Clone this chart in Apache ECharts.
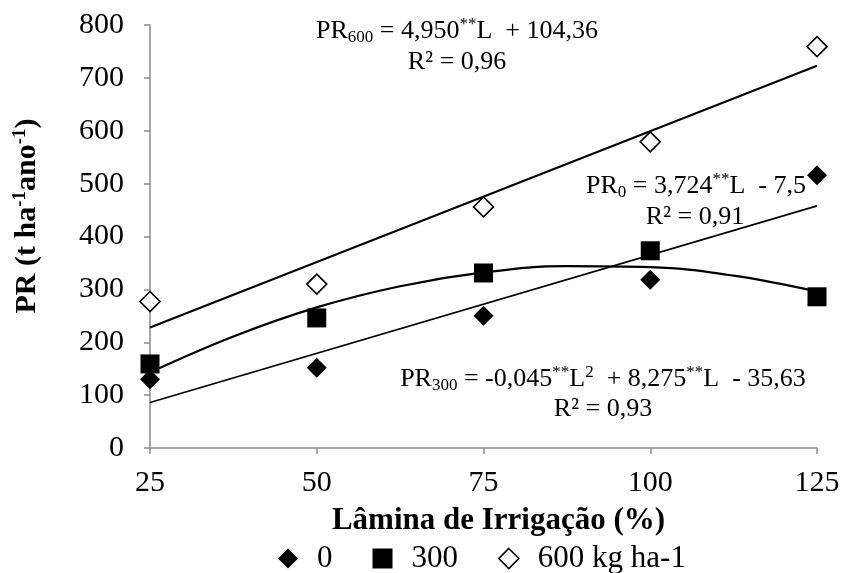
<!DOCTYPE html>
<html>
<head>
<meta charset="utf-8">
<script src="https://cdn.jsdelivr.net/npm/echarts@6/dist/echarts.min.js"></script>
<style>
html,body{margin:0;padding:0;background:#fff;}
#chart{width:845px;height:573px;}
</style>
</head>
<body>
<div id="chart"></div>
<script>
// ---- data ----
var lamina = [25, 50, 75, 100, 125];
var pr0 = [130, 152, 250, 318, 516];
var pr300 = [159, 246, 331, 373, 286];
var pr600 = [277, 310, 456, 579, 759];

// fitted trend lines
var fit0X = [25, 125];
var fit0Y = [86, 458];
var fit600X = [25, 125];
var fit600Y = [228, 723];
var fit300X = [25, 37.5, 50, 62.5, 75, 87.5, 100, 112.5, 125];
var fit300Y = [143, 211, 266, 306, 332, 344, 342, 326, 296];

var xTicks = [25, 50, 75, 100, 125];
var seriesNames = ['0', '300', '600 kg ha-1'];

function pairs(xs, ys){ return xs.map(function(x,i){ return [x, ys[i]]; }); }

var FONT = 'Liberation Serif';
var chart = echarts.init(document.getElementById('chart'), null, {renderer:'canvas'});

var eqRich = {
  n: {fontFamily: FONT, fontSize: 26, color: '#000', lineHeight: 30},
  sb: {fontFamily: FONT, fontSize: 17, color: '#000', lineHeight: 17, verticalAlign: 'bottom'},
  sp: {fontFamily: FONT, fontSize: 17, color: '#000', lineHeight: 17, verticalAlign: 'top'}
};
function eqText(x, y, txt){
  return {type:'text', x:x, y:y, z:100, style:{text:txt, rich:eqRich, align:'center', verticalAlign:'middle', fontFamily:FONT, fontSize:26, fill:'#000'}};
}

var option = {
  backgroundColor: '#fff',
  animation: false,
  grid: {left: 150, right: 28, top: 25, bottom: 125, containLabel: false},
  xAxis: {
    type: 'value', min: xTicks[0], max: xTicks[xTicks.length-1], interval: 25,
    name: 'Lâmina de Irrigação (%)', nameLocation: 'middle', nameGap: 57,
    nameTextStyle: {fontFamily: FONT, fontSize: 31, fontWeight: 'bold', color: '#000', padding:[0,0,0,30]},
    axisLine: {show: true, lineStyle: {color: '#8c8c8c', width: 1.5}},
    axisTick: {show: true, length: 6, lineStyle: {color: '#8c8c8c', width: 1.5}},
    axisLabel: {fontFamily: FONT, fontSize: 30, color: '#000', margin: 20},
    splitLine: {show: false}
  },
  yAxis: {
    type: 'value', min: 0, max: 800, interval: 100,
    axisLine: {show: true, lineStyle: {color: '#8c8c8c', width: 1.5}},
    axisTick: {show: true, length: 6, lineStyle: {color: '#8c8c8c', width: 1.5}},
    axisLabel: {fontFamily: FONT, fontSize: 30, color: '#000', margin: 26},
    splitLine: {show: false}
  },
  legend: {
    left: 273, top: 538, itemWidth: 20, itemHeight: 20, itemGap: 40,
    textStyle: {fontFamily: FONT, fontSize: 31, color: '#000', padding: [0,0,0,14]},
    data: [
      {name: seriesNames[0], icon: 'diamond', itemStyle: {color:'#000', opacity: 1}},
      {name: seriesNames[1], icon: 'rect', itemStyle: {color:'#000', opacity: 1}},
      {name: seriesNames[2], icon: 'diamond', itemStyle: {color:'#fff', borderColor:'#000', borderWidth:1.6, opacity: 1}}
    ]
  },
  series: [
    {name: 'fit600', type: 'line', data: pairs(fit600X, fit600Y), showSymbol: false, symbol:'none', lineStyle: {color:'#000', width: 2}, z: 2, silent: true},
    {name: 'fit0', type: 'line', data: pairs(fit0X, fit0Y), showSymbol: false, symbol:'none', lineStyle: {color:'#000', width: 1.7}, z: 2, silent: true},
    {name: 'fit300', type: 'line', data: pairs(fit300X, fit300Y), smooth: 0.4, showSymbol: false, symbol:'none', lineStyle: {color:'#000', width: 2.2}, z: 2, silent: true},
    {name: seriesNames[0], type: 'scatter', data: pairs(lamina, pr0), symbol: 'diamond', symbolSize: 20, itemStyle: {color: '#000', opacity: 1}, z: 5},
    {name: seriesNames[1], type: 'scatter', data: pairs(lamina, pr300), symbol: 'rect', symbolSize: 19, itemStyle: {color: '#000', opacity: 1}, z: 5},
    {name: seriesNames[2], type: 'scatter', data: pairs(lamina, pr600), symbol: 'diamond', symbolSize: 20, itemStyle: {color: '#fff', borderColor: '#000', borderWidth: 1.6, opacity: 1}, z: 5}
  ],
  graphic: [
    {type:'text', x: 27, y: 216, rotation: Math.PI/2, z:100,
     style:{text:'{b|PR (t ha}{s|-1}{b|ano}{s|-1}{b|)}', align:'center', verticalAlign:'middle', fill:'#000',
       fontFamily: FONT, fontSize: 30, fontWeight:'bold',
       rich:{b:{fontFamily:FONT, fontSize:30, fontWeight:'bold', color:'#000', lineHeight:32},
             s:{fontFamily:FONT, fontSize:19, fontWeight:'bold', color:'#000', lineHeight:19, verticalAlign:'top'}}}},
    eqText(457, 31, '{n|PR}{sb|600}{n| = 4,950}{sp|**}{n|L  + 104,36}'),
    eqText(457, 62, '{n|R² = 0,96}'),
    eqText(696, 186, '{n|PR}{sb|0}{n| = 3,724}{sp|**}{n|L  - 7,5}'),
    eqText(695, 217, '{n|R² = 0,91}'),
    eqText(603, 379, '{n|PR}{sb|300}{n| = -0,045}{sp|**}{n|L}{sp|2}{n|  + 8,275}{sp|**}{n|L  - 35,63}'),
    eqText(603, 409, '{n|R² = 0,93}')
  ]
};
chart.setOption(option);
</script>
</body>
</html>
